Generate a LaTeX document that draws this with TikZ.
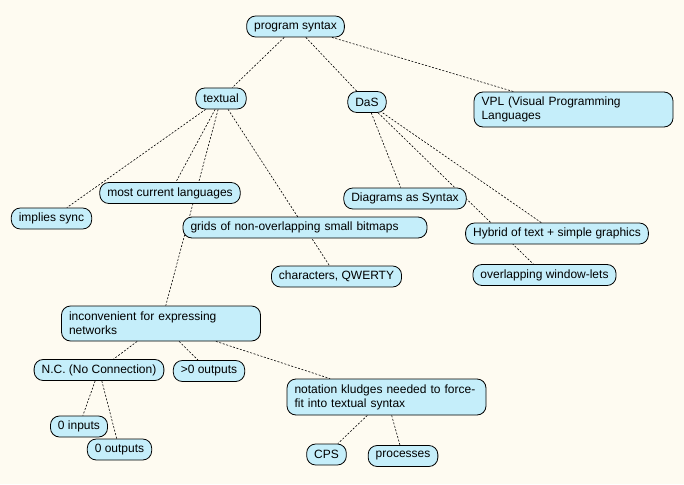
\documentclass[tikz,border=0pt]{standalone}
\usepackage{fontspec}
\setmainfont{Liberation Sans}
\usetikzlibrary{backgrounds}
\definecolor{cream}{HTML}{FEFBF1}
\definecolor{cmapblue}{HTML}{C5EEFA}
\begin{document}
\begin{tikzpicture}[x=1pt,y=-1pt,
    concept/.style={draw,fill=cmapblue,rounded corners=9pt,line width=0.8pt,inner xsep=7.5pt,inner ysep=0pt,minimum height=21pt,font=\fontsize{12}{14}\selectfont},
    wide/.style={concept,text width=184pt,align=left,minimum height=35pt},
    link/.style={dash pattern=on 2pt off 1.6pt,line width=0.6pt}]
        \useasboundingbox(0,0)rectangle(684,484);
        \node[concept](prog)at(295.5,26.5){program syntax};
        \node[concept](textual)at(221,98.5){textual};
        \node[concept](das)at(367,102){DaS};
        \node[wide](vpl)at(573.5,109.5){VPL (Visual Programming\\Languages};
        \node[concept](most)at(170,193){most current languages};
        \node[concept](sync)at(51.5,218.5){implies sync};
        \node[concept,text width=229pt,align=left](grids)at(305,227.5){grids of non-overlapping small bitmaps};
        \node[concept](diag)at(405,198.5){Diagrams as Syntax};
        \node[concept](hybrid)at(557,233.5){Hybrid of text + simple graphics};
        \node[concept](windows)at(544.5,275){overlapping window-lets};
        \node[concept](qwerty)at(336.5,276.5){characters, QWERTY};
        \node[wide](inconv)at(161,323.5){inconvenient for expressing\\networks};
        \node[concept](nc)at(99,370){N.C. (No Connection)};
        \node[concept](gtzero)at(209,371){>0 outputs};
        \node[wide,minimum height=36pt](kludge)at(386.5,397){notation kludges needed to force-\\fit into textual syntax};
        \node[concept](noin)at(79,426.5){0 inputs};
        \node[concept](noout)at(119.5,449.5){0 outputs};
        \node[concept](cps)at(326.5,454.5){CPS};
        \node[concept](proc)at(403,456){processes};

        \begin{pgfonlayer}{background}
        \fill[cream](0,0)rectangle(684,484);
        \foreach \a/\b in {prog/textual,prog/das,prog/vpl,textual/sync,textual/most,textual/inconv,textual/qwerty,das/diag,das/hybrid,das/windows,inconv/nc,inconv/gtzero,inconv/kludge,nc/noin,nc/noout,kludge/cps,kludge/proc}
            \draw[link](\a)--(\b);
        \end{pgfonlayer}
    \end{tikzpicture}
\end{document}
